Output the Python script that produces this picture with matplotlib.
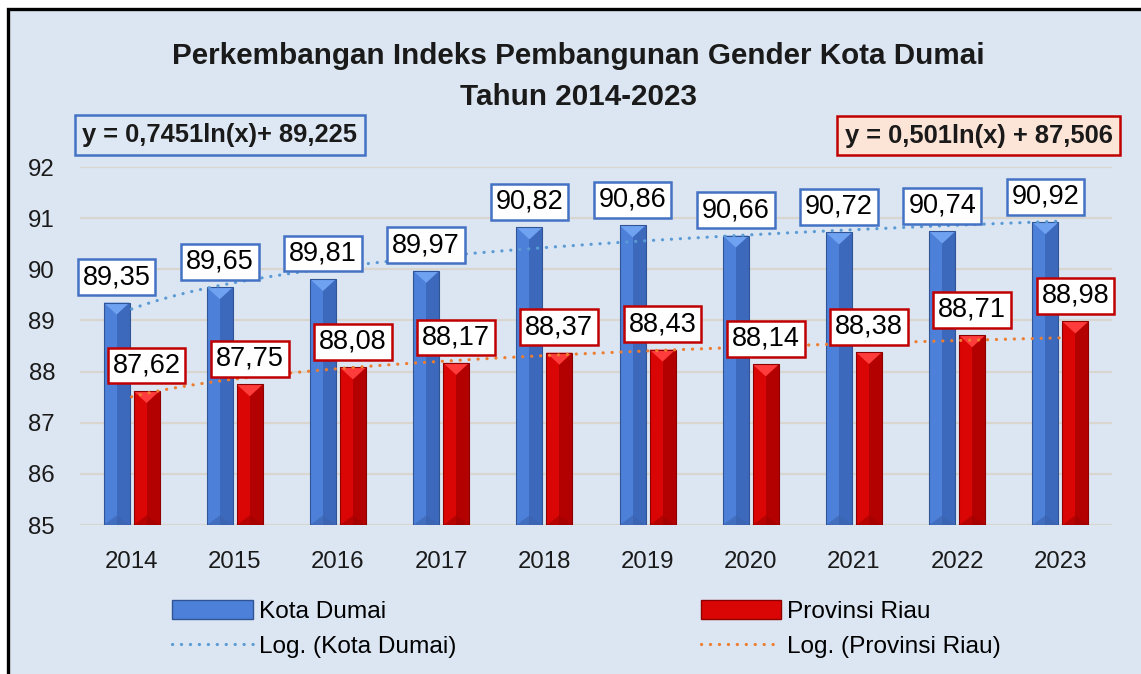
import numpy as np
import matplotlib
matplotlib.use('Agg')
import matplotlib.pyplot as plt
from matplotlib.patches import Rectangle, Polygon, Patch
from matplotlib.lines import Line2D

years = ['2014', '2015', '2016', '2017', '2018', '2019', '2020', '2021', '2022', '2023']
kota_dumai = [89.35, 89.65, 89.81, 89.97, 90.82, 90.86, 90.66, 90.72, 90.74, 90.92]
provinsi_riau = [87.62, 87.75, 88.08, 88.17, 88.37, 88.43, 88.14, 88.38, 88.71, 88.98]
eq_kota = 'y = 0,7451ln(x)+ 89,225'
eq_riau = 'y = 0,501ln(x) + 87,506'
title1 = 'Perkembangan Indeks Pembangunan Gender Kota Dumai'
title2 = 'Tahun 2014-2023'

plt.rcParams['font.family'] = ['Liberation Sans', 'DejaVu Sans']

W, H = 1141, 674
def fx(x): return x / W
def fy(y): return 1 - y / H

fig = plt.figure(figsize=(W / 100, H / 100), dpi=100)
fig.patch.set_facecolor('white')
# chart area background with black frame (cut at right/bottom)
fig.patches.append(Rectangle((fx(7.5), -0.05), 1.1, fy(8.5) + 0.05, transform=fig.transFigure,
                             facecolor='#DCE6F2', edgecolor='black', lw=2.4, zorder=-5))

ax = fig.add_axes([fx(80), fy(525), fx(1112) - fx(80), fy(167) - fy(525)])
ax.set_facecolor('none')
for s in ax.spines.values():
    s.set_visible(False)
ax.set_xlim(-0.5, 9.5)
ax.set_ylim(85, 92)
ax.set_yticks(range(85, 93))
ax.set_xticks(range(len(years)))
ax.set_xticklabels(years)
ax.tick_params(axis='both', length=0, labelsize=17.3, colors='#1a1a1a')
ax.tick_params(axis='y', pad=18)
ax.tick_params(axis='x', pad=19)
ax.yaxis.grid(True, color='#D9D5CF', lw=1.6)
ax.set_axisbelow(True)

x = np.arange(len(years))
bw = 0.252
off = 0.145
styles = {
    'blue': dict(main='#4D80D8', dark='#3D69BC', edge='#2F5597', top='#70A2F2', bot='#3A63AE'),
    'red': dict(main='#DA0606', dark='#B30000', edge='#8E0000', top='#FF3C3C', bot='#A00000'),
}

def bevel_bars(xs, vals, st):
    dy = 12 / 51.2
    for xc, v in zip(xs, vals):
        x0, x1 = xc - bw / 2, xc + bw / 2
        ax.add_patch(Rectangle((x0, 85), bw, v - 85, facecolor=st['main'], lw=0, zorder=2))
        ax.add_patch(Rectangle((xc, 85), bw / 2, v - 85, facecolor=st['dark'], lw=0, zorder=2.1))
        ax.add_patch(Polygon([(x0, v), (x1, v), (xc, v - dy)], closed=True, facecolor=st['top'], lw=0, zorder=2.2))
        ax.add_patch(Polygon([(x0, 85), (x1, 85), (xc, 85 + dy * 0.8)], closed=True, facecolor=st['bot'], lw=0, zorder=2.2, alpha=0.6))
        ax.add_patch(Rectangle((x0, 85), bw, v - 85, facecolor='none', edgecolor=st['edge'], lw=0.8, zorder=2.3))

bevel_bars(x - off, kota_dumai, styles['blue'])
bevel_bars(x + off, provinsi_riau, styles['red'])

# logarithmic trendlines fitted on the data
dots = (0, (0.05, 2.75))
t = np.linspace(1, len(years), 200)
a_k, b_k = np.polyfit(np.log(x + 1), kota_dumai, 1)
a_r, b_r = np.polyfit(np.log(x + 1), provinsi_riau, 1)
ax.plot(t - 1, a_k * np.log(t) + b_k, color='#5B9BD5', lw=2.3, ls=dots, dash_capstyle='round', zorder=3)
ax.plot(t - 1, a_r * np.log(t) + b_r, color='#ED7D31', lw=2.3, ls=dots, dash_capstyle='round', zorder=3)

def labels(xs, vals, edge):
    for xc, v in zip(xs, vals):
        ax.annotate(f'{v:.2f}'.replace('.', ','), (xc, v), xytext=(0, 9.0), textcoords='offset points',
                    ha='center', va='bottom', fontsize=19.5, color='black',
                    bbox=dict(boxstyle='square,pad=0.18', facecolor='white', edgecolor=edge, lw=1.8),
                    zorder=5, annotation_clip=False)

labels(x - off, kota_dumai, '#4472C4')
labels(x + off, provinsi_riau, '#C00000')

fig.text(fx(578), fy(64), title1, ha='center', va='baseline', fontsize=21.3, fontweight='bold', color='#1a1a1a')
fig.text(fx(578), fy(105), title2, ha='center', va='baseline', fontsize=21.3, fontweight='bold', color='#1a1a1a')

fig.text(fx(220), fy(135), eq_kota, ha='center', va='center', fontsize=18.4, fontweight='bold', color='#1a1a1a',
         bbox=dict(boxstyle='square,pad=0.3', facecolor='#DEE8F4', edgecolor='#4472C4', lw=1.8))
fig.text(fx(978.5), fy(135.5), eq_riau, ha='center', va='center', fontsize=18.4, fontweight='bold', color='#1a1a1a',
         bbox=dict(boxstyle='square,pad=0.3', facecolor='#FCE4D6', edgecolor='#C00000', lw=1.8))

handles = [
    Patch(facecolor=styles['blue']['main'], edgecolor=styles['blue']['edge']),
    Line2D([], [], color='#5B9BD5', lw=2.3, ls=dots, dash_capstyle='round'),
    Patch(facecolor=styles['red']['main'], edgecolor=styles['red']['edge']),
    Line2D([], [], color='#ED7D31', lw=2.3, ls=dots, dash_capstyle='round'),
]
names = ['Kota Dumai', 'Log. (Kota Dumai)', 'Provinsi Riau', 'Log. (Provinsi Riau)']
fig.legend(handles, names, loc='upper left', bbox_to_anchor=(fx(172), fy(600)), ncol=2, frameon=False,
           fontsize=17.6, handlelength=3.3, handleheight=0.8, handletextpad=0.25, labelspacing=0.5,
           columnspacing=10.0, borderpad=0, borderaxespad=0)

fig.savefig('out.png', dpi=100, facecolor=fig.get_facecolor())
